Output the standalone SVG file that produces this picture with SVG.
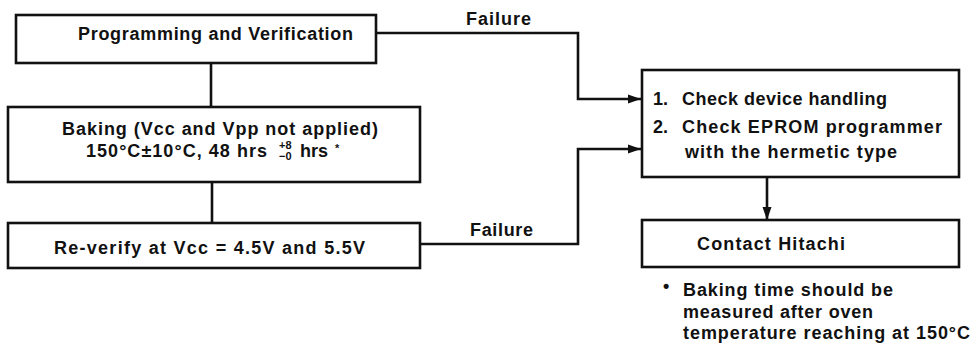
<svg xmlns="http://www.w3.org/2000/svg" width="978" height="350" viewBox="0 0 978 350">
<style>
.box{fill:#fff;stroke:#111;stroke-width:2.6}
.ln{fill:none;stroke:#111;stroke-width:2.6}
text{font-family:"Liberation Sans",Arial,Helvetica,sans-serif;font-weight:bold;font-size:18px;fill:#111}
.fn{font-size:18px}
.sm{font-size:11px}
</style>
<defs>
<marker id="ah" markerUnits="userSpaceOnUse" markerWidth="14" markerHeight="10" refX="13" refY="5" orient="auto">
<path d="M0,0.5 L13,5 L0,9.5 z" fill="#111"/>
</marker>
</defs>
<rect width="978" height="350" fill="#fff"/>
<g id="connectors">
<path class="ln" d="M211,63 V107"/>
<path class="ln" d="M212,182 V223"/>
<path class="ln" d="M376,33 H578 V99 H641" marker-end="url(#ah)"/>
<path class="ln" d="M420,244 H578 V149 H641" marker-end="url(#ah)"/>
<path class="ln" d="M767,177 V220" marker-end="url(#ah)"/>
<text x="466" y="25" textLength="65" lengthAdjust="spacing">Failure</text>
<text x="470" y="236" textLength="63" lengthAdjust="spacing">Failure</text>
</g>
<g id="programming">
<rect class="box" x="16" y="15" width="360" height="48"/>
<text x="78" y="40" textLength="275" lengthAdjust="spacing">Programming and Verification</text>
</g>
<g id="baking">
<rect class="box" x="8" y="107" width="412" height="75"/>
<text x="62" y="135" textLength="316" lengthAdjust="spacing">Baking (Vcc and Vpp not applied)</text>
<text x="86" y="157" textLength="181" lengthAdjust="spacing">150°C±10°C, 48 hrs</text>
<text class="sm" x="279" y="149">+8</text>
<text class="sm" x="279" y="160">−0</text>
<text x="300" y="157">hrs</text>
<text class="sm" x="335" y="152">*</text>
</g>
<g id="reverify">
<rect class="box" x="8" y="223" width="412" height="45"/>
<text x="54" y="254" textLength="311" lengthAdjust="spacing">Re-verify at Vcc = 4.5V and 5.5V</text>
</g>
<g id="check">
<rect class="box" x="642" y="70" width="317" height="107"/>
<text x="653" y="105">1.</text>
<text x="682" y="105" textLength="205" lengthAdjust="spacing">Check device handling</text>
<text x="653" y="133">2.</text>
<text x="682" y="133" textLength="260" lengthAdjust="spacing">Check EPROM programmer</text>
<text x="685" y="158" textLength="212" lengthAdjust="spacing">with the hermetic type</text>
</g>
<g id="contact">
<rect class="box" x="642" y="220" width="317" height="47"/>
<text x="697" y="250" textLength="148" lengthAdjust="spacing">Contact Hitachi</text>
</g>
<g id="footnote">
<text x="663" y="292">•</text>
<text class="fn" x="683" y="296" textLength="210" lengthAdjust="spacing">Baking time should be</text>
<text class="fn" x="683" y="318" textLength="190" lengthAdjust="spacing">measured after oven</text>
<text class="fn" x="683" y="339" textLength="287" lengthAdjust="spacing">temperature reaching at 150°C</text>
</g>
</svg>
